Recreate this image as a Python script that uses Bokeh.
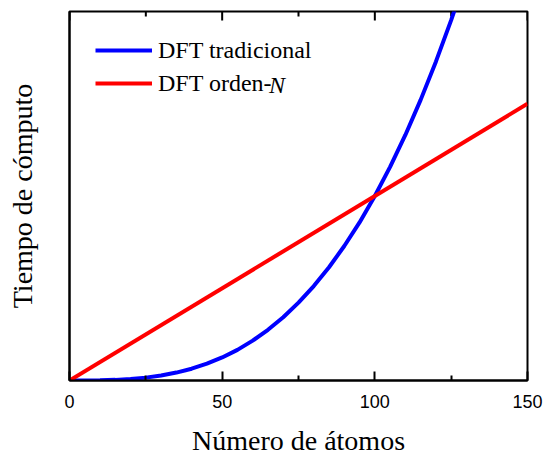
from bokeh.plotting import figure
from bokeh.models import FixedTicker, Range1d, Legend, LegendItem, Label
from bokeh.embed import file_html
from bokeh.resources import INLINE

# Data
atoms = [0, 5, 10, 15, 20, 25, 30, 35, 40, 45, 50, 55, 60, 65, 70, 75, 80, 85,
         90, 95, 100, 105, 110, 115, 120, 125, 130]
t_traditional = [0, 0.01, 0.1, 0.34, 0.8, 1.56, 2.7, 4.29, 6.4, 9.11, 12.5, 16.6,
                 21.6, 27.5, 34.3, 42.2, 51.2, 61.4, 72.9, 85.7, 100, 115.8, 133.1,
                 152.1, 172.8, 195.3, 219.7]
atoms_lin = [0, 150]
t_order_n = [0, 150]
x_major = [0, 50, 100, 150]
x_minor = [25, 75, 125]
y_max = 200

SERIF = "Liberation Serif"
SANS = "Liberation Sans Narrow, Liberation Sans"

FRAME_H = 459 - 11 - 79  # frame height in px
px_to_y = y_max / FRAME_H

p = figure(width=545, height=459, output_backend="svg", toolbar_location=None,
           x_range=Range1d(0, 150), y_range=Range1d(0, y_max),
           min_border_left=69, min_border_right=18, min_border_top=11,
           min_border_bottom=79, background_fill_color="white",
           border_fill_color="white")
p.grid.visible = False
p.outline_line_color = "black"
p.outline_line_width = 2

# bottom axis
xa = p.xaxis[0]
xa.ticker = FixedTicker(ticks=x_major, minor_ticks=x_minor)
xa.axis_line_width = 2
xa.axis_line_color = "black"
xa.major_tick_line_width = 2
xa.minor_tick_line_width = 2
xa.major_tick_line_color = "black"
xa.minor_tick_line_color = "black"
xa.major_tick_in = 9
xa.major_tick_out = 0
xa.minor_tick_in = 5
xa.minor_tick_out = 0
xa.major_label_text_font = SANS
xa.major_label_text_font_size = "18px"
xa.major_label_text_color = "black"
xa.major_label_standoff = 14
xa.axis_label = "Número de átomos"
xa.axis_label_text_font = SERIF
xa.axis_label_text_font_size = "28px"
xa.axis_label_text_font_style = "normal"
xa.axis_label_text_color = "black"
xa.axis_label_standoff = 14

# left axis
ya = p.yaxis[0]
ya.ticker = FixedTicker(ticks=[])
ya.axis_line_width = 2
ya.axis_line_color = "black"
ya.major_tick_line_color = None
ya.minor_tick_line_color = None
ya.axis_label = "Tiempo de cómputo"
ya.axis_label_text_font = SERIF
ya.axis_label_text_font_size = "28px"
ya.axis_label_text_font_style = "normal"
ya.axis_label_text_color = "black"
ya.axis_label_standoff = 32

# top mirrored tick marks (inward)
p.segment(x0=x_major, y0=[y_max] * len(x_major), x1=x_major,
          y1=[y_max - 9 * px_to_y] * len(x_major), line_color="black", line_width=2)
p.segment(x0=x_minor, y0=[y_max] * len(x_minor), x1=x_minor,
          y1=[y_max - 5 * px_to_y] * len(x_minor), line_color="black", line_width=2)

r1 = p.line(atoms, t_traditional, line_color="#0000FF", line_width=4)
r2 = p.line(atoms_lin, t_order_n, line_color="#FF0000", line_width=4)

legend = Legend(items=[LegendItem(label="DFT tradicional", renderers=[r1]),
                       LegendItem(label="DFT orden-", renderers=[r2])],
                location=(26, 282), glyph_width=57, glyph_height=30,
                label_height=30, spacing=3, padding=0, margin=0,
                label_standoff=6, label_text_font=SERIF,
                label_text_font_size="24px", label_text_color="black",
                border_line_color=None, background_fill_alpha=0)
p.add_layout(legend)

n_label = Label(x=65.3, y=160, text="N", text_font=SERIF, text_font_size="24px",
                text_font_style="italic", text_baseline="middle", text_color="black")
p.add_layout(n_label)

open("out.html", "w").write(file_html(p, INLINE))
